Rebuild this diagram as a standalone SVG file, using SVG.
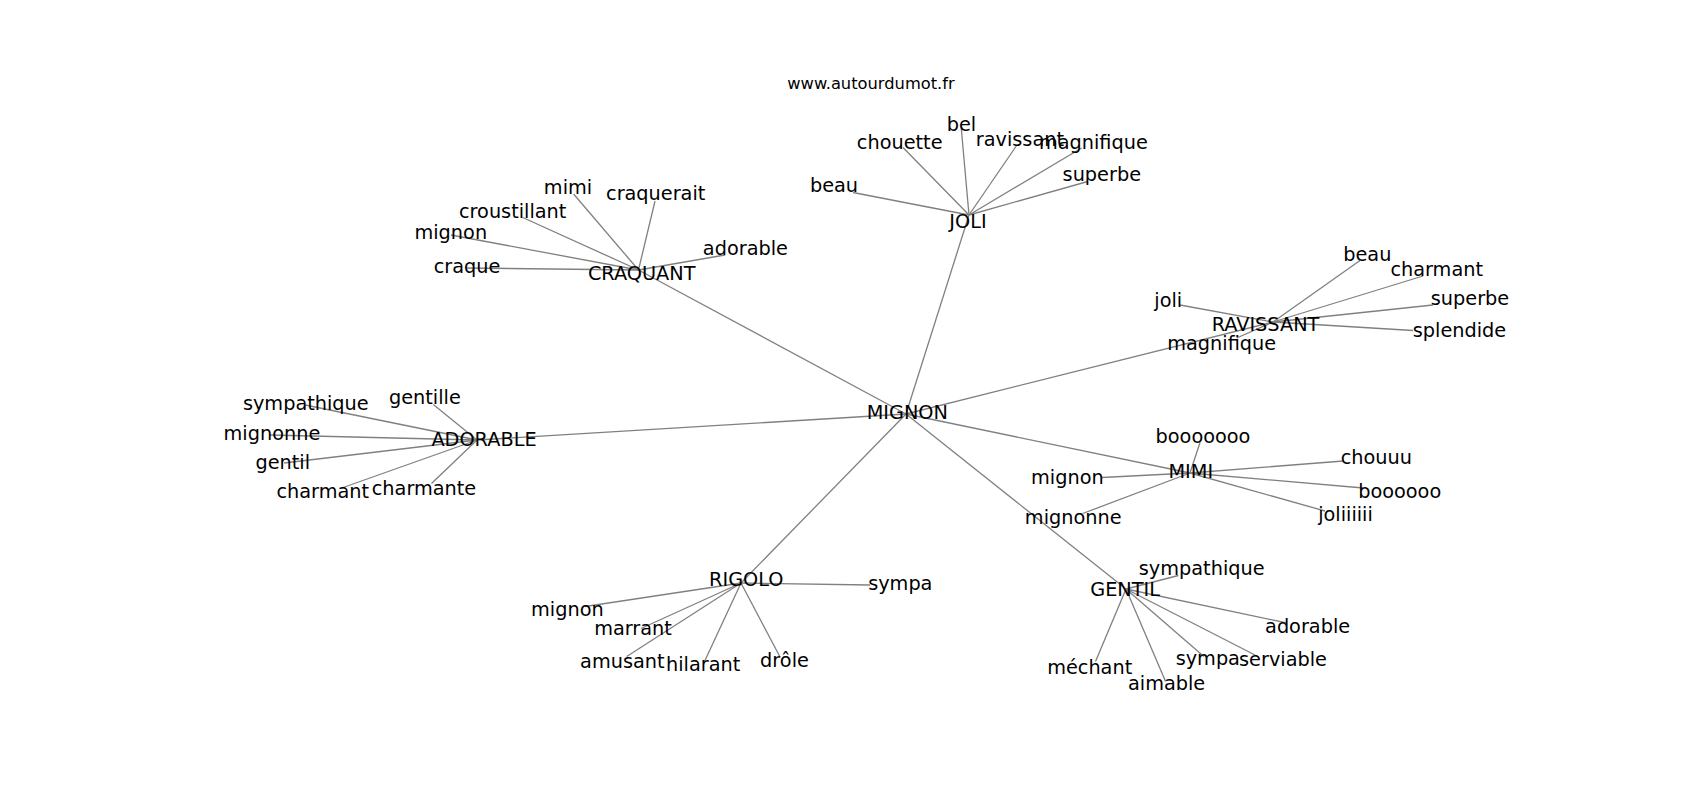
<svg xmlns="http://www.w3.org/2000/svg" width="1700" height="800" viewBox="0 0 1700 800">
<style>
.e{stroke:#808080;stroke-width:1.3;fill:none}
text{font-family:"DejaVu Sans","Liberation Sans",sans-serif;font-size:19.3px;fill:#000;text-anchor:middle}
.t{font-size:16.3px}
</style>
<rect width="1700" height="800" fill="#fff"/>
<text class="t" x="871" y="88.5">www.autourdumot.fr</text>
<g id="edges">
<line class="e" x1="906" y1="414" x2="969" y2="215"/>
<line class="e" x1="906" y1="414" x2="638.5" y2="270"/>
<line class="e" x1="906" y1="414" x2="477" y2="440"/>
<line class="e" x1="906" y1="414" x2="1273" y2="322"/>
<line class="e" x1="906" y1="414" x2="1190" y2="473"/>
<line class="e" x1="906" y1="414" x2="741" y2="583"/>
<line class="e" x1="906" y1="414" x2="1126" y2="589"/>
<line class="e" x1="969" y1="215" x2="853" y2="192.5"/>
<line class="e" x1="969" y1="215" x2="903" y2="147.5"/>
<line class="e" x1="969" y1="215" x2="961.2" y2="127.5"/>
<line class="e" x1="969" y1="215" x2="1016.3" y2="146"/>
<line class="e" x1="969" y1="215" x2="1081.6" y2="148"/>
<line class="e" x1="969" y1="215" x2="1087.8" y2="181.5"/>
<line class="e" x1="638.5" y1="270" x2="573.6" y2="194"/>
<line class="e" x1="638.5" y1="270" x2="655" y2="201"/>
<line class="e" x1="638.5" y1="270" x2="522.7" y2="217.5"/>
<line class="e" x1="638.5" y1="270" x2="451" y2="235"/>
<line class="e" x1="638.5" y1="270" x2="466.6" y2="268"/>
<line class="e" x1="638.5" y1="270" x2="725" y2="255"/>
<line class="e" x1="477" y1="440" x2="305.2" y2="405"/>
<line class="e" x1="477" y1="440" x2="433.3" y2="404.5"/>
<line class="e" x1="477" y1="440" x2="270" y2="435"/>
<line class="e" x1="477" y1="440" x2="284.2" y2="463"/>
<line class="e" x1="477" y1="440" x2="340.3" y2="488.5"/>
<line class="e" x1="477" y1="440" x2="431.5" y2="483.5"/>
<line class="e" x1="1273" y1="322" x2="1360" y2="260.5"/>
<line class="e" x1="1273" y1="322" x2="1423" y2="276"/>
<line class="e" x1="1273" y1="322" x2="1180" y2="305"/>
<line class="e" x1="1273" y1="322" x2="1433" y2="305"/>
<line class="e" x1="1273" y1="322" x2="1413" y2="330.5"/>
<line class="e" x1="1273" y1="322" x2="1236.7" y2="338"/>
<line class="e" x1="1190" y1="473" x2="1200" y2="442.5"/>
<line class="e" x1="1190" y1="473" x2="1343.3" y2="461"/>
<line class="e" x1="1190" y1="473" x2="1102" y2="477.5"/>
<line class="e" x1="1190" y1="473" x2="1363.3" y2="488"/>
<line class="e" x1="1190" y1="473" x2="1325" y2="511"/>
<line class="e" x1="1190" y1="473" x2="1082.7" y2="513.5"/>
<line class="e" x1="741" y1="583" x2="870" y2="585"/>
<line class="e" x1="741" y1="583" x2="585.2" y2="606.5"/>
<line class="e" x1="741" y1="583" x2="641" y2="628.5"/>
<line class="e" x1="741" y1="583" x2="626.7" y2="656.5"/>
<line class="e" x1="741" y1="583" x2="704.5" y2="661.5"/>
<line class="e" x1="741" y1="583" x2="779.8" y2="656.5"/>
<line class="e" x1="1126" y1="589" x2="1178.4" y2="575.5"/>
<line class="e" x1="1126" y1="589" x2="1286.8" y2="623"/>
<line class="e" x1="1126" y1="589" x2="1203.9" y2="656.5"/>
<line class="e" x1="1126" y1="589" x2="1255" y2="655"/>
<line class="e" x1="1126" y1="589" x2="1095.5" y2="661.5"/>
<line class="e" x1="1126" y1="589" x2="1165.6" y2="681.5"/>
</g>
<g id="n-mignon"><text x="907.3" y="419.3">MIGNON</text></g>
<g id="n-joli"><text x="968" y="227.7">JOLI</text></g>
<g id="n-craquant"><text x="641.7" y="280.3">CRAQUANT</text></g>
<g id="n-adorable"><text x="484" y="446">ADORABLE</text></g>
<g id="n-ravissant"><text x="1265.5" y="331">RAVISSANT</text></g>
<g id="n-mimi"><text x="1190.8" y="478.3">MIMI</text></g>
<g id="n-rigolo"><text x="746.3" y="586">RIGOLO</text></g>
<g id="n-gentil"><text x="1125.1" y="596">GENTIL</text></g>
<g id="n-joli-beau"><text x="834" y="192">beau</text></g>
<g id="n-joli-chouette"><text x="899.7" y="148.5">chouette</text></g>
<g id="n-joli-bel"><text x="961.4" y="130.5">bel</text></g>
<g id="n-joli-ravissant"><text x="1019.9" y="146">ravissant</text></g>
<g id="n-joli-magnifique"><text x="1093.4" y="148.5">magnifique</text></g>
<g id="n-joli-superbe"><text x="1101.8" y="181.3">superbe</text></g>
<g id="n-craquant-mimi"><text x="568" y="194.3">mimi</text></g>
<g id="n-craquant-craquerait"><text x="655.7" y="199.7">craquerait</text></g>
<g id="n-craquant-croustillant"><text x="512.7" y="217.7">croustillant</text></g>
<g id="n-craquant-mignon"><text x="450.8" y="238.5">mignon</text></g>
<g id="n-craquant-craque"><text x="467" y="272.7">craque</text></g>
<g id="n-craquant-adorable"><text x="745.4" y="255.3">adorable</text></g>
<g id="n-adorable-sympathique"><text x="305.8" y="410">sympathique</text></g>
<g id="n-adorable-gentille"><text x="424.9" y="403.5">gentille</text></g>
<g id="n-adorable-mignonne"><text x="271.9" y="439.5">mignonne</text></g>
<g id="n-adorable-gentil"><text x="282.8" y="468.7">gentil</text></g>
<g id="n-adorable-charmant"><text x="322.8" y="497.5">charmant</text></g>
<g id="n-adorable-charmante"><text x="424" y="494.5">charmante</text></g>
<g id="n-ravissant-beau"><text x="1367.3" y="260.7">beau</text></g>
<g id="n-ravissant-charmant"><text x="1436.7" y="276.3">charmant</text></g>
<g id="n-ravissant-joli"><text x="1168.3" y="306.5">joli</text></g>
<g id="n-ravissant-superbe"><text x="1470" y="305.3">superbe</text></g>
<g id="n-ravissant-splendide"><text x="1459.5" y="337">splendide</text></g>
<g id="n-ravissant-magnifique"><text x="1221.7" y="350.3">magnifique</text></g>
<g id="n-mimi-booooooo"><text x="1203" y="442.7">booooooo</text></g>
<g id="n-mimi-chouuu"><text x="1376.3" y="463.5">chouuu</text></g>
<g id="n-mimi-mignon"><text x="1067.4" y="483.5">mignon</text></g>
<g id="n-mimi-boooooo"><text x="1399.7" y="497.5">boooooo</text></g>
<g id="n-mimi-joliiiiii"><text x="1345.5" y="521">joliiiiii</text></g>
<g id="n-mimi-mignonne"><text x="1073.2" y="523.5">mignonne</text></g>
<g id="n-rigolo-sympa"><text x="900.3" y="590">sympa</text></g>
<g id="n-rigolo-mignon"><text x="567.4" y="616">mignon</text></g>
<g id="n-rigolo-marrant"><text x="633" y="635">marrant</text></g>
<g id="n-rigolo-amusant"><text x="622.3" y="667.5">amusant</text></g>
<g id="n-rigolo-hilarant"><text x="703.2" y="671">hilarant</text></g>
<g id="n-rigolo-drole"><text x="784.5" y="667">drôle</text></g>
<g id="n-gentil-sympathique"><text x="1201.7" y="575">sympathique</text></g>
<g id="n-gentil-adorable"><text x="1307.6" y="633">adorable</text></g>
<g id="n-gentil-sympa"><text x="1207.8" y="665">sympa</text></g>
<g id="n-gentil-serviable"><text x="1283" y="666">serviable</text></g>
<g id="n-gentil-mechant"><text x="1089.7" y="673.5">méchant</text></g>
<g id="n-gentil-aimable"><text x="1166.6" y="690">aimable</text></g>
</svg>
